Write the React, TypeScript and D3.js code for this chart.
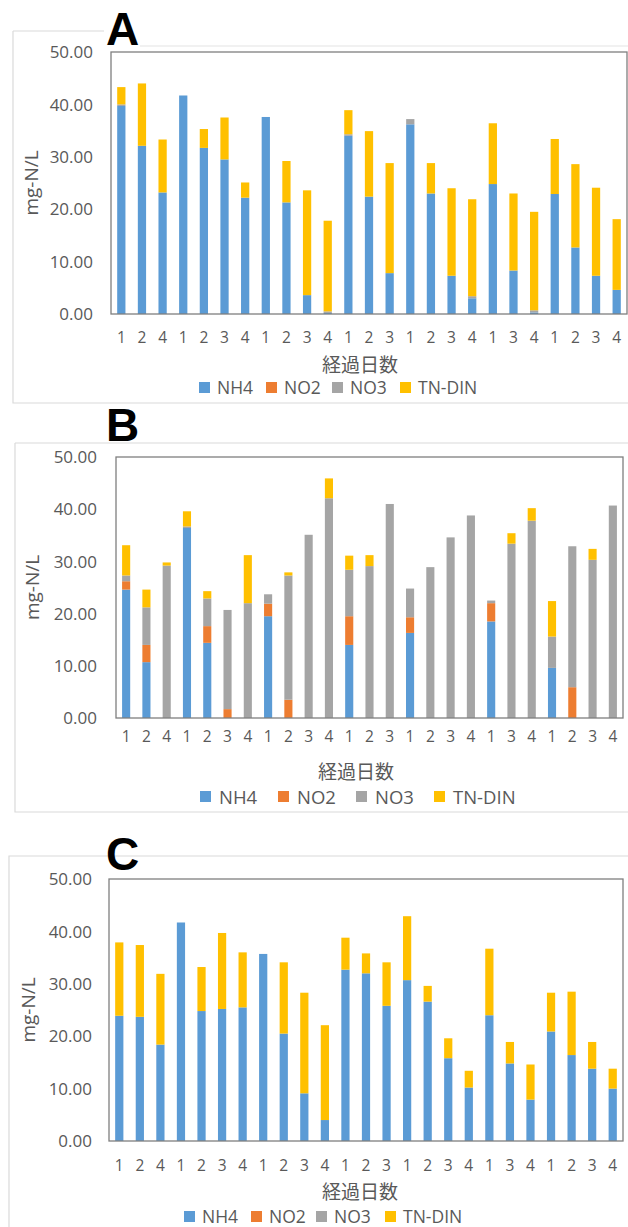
import React from "react";
import * as d3 from "d3";

// ---------- data ----------
const dayLabels = ["1","2","4","1","2","3","4","1","2","3","4","1","2","3","1","2","3","4","1","3","4","1","2","3","4"];
const seriesNames = ["NH4", "NO2", "NO3", "TN-DIN"];
const yTicks = [0, 10, 20, 30, 40, 50];
const yTickLabels = ["0.00", "10.00", "20.00", "30.00", "40.00", "50.00"];
const xAxisTitle = "経過日数";
const yAxisTitle = "mg-N/L";

const A_NH4 = [39.7, 32.1, 23.2, 41.7, 31.7, 29.5, 22.2, 37.6, 21.3, 3.6, 0.2, 34.0, 22.4, 7.8, 36.2, 23.0, 7.3, 3.0, 24.8, 8.3, 0.3, 22.9, 12.7, 7.3, 4.6];
const A_NO2 = [0, 0, 0, 0, 0, 0, 0, 0, 0, 0, 0, 0, 0, 0, 0, 0, 0, 0, 0, 0, 0, 0, 0, 0, 0];
const A_NO3 = [0.3, 0, 0, 0, 0, 0, 0, 0, 0, 0, 0.3, 0.3, 0, 0, 1.0, 0, 0, 0.4, 0, 0, 0.4, 0, 0, 0, 0];
const A_TNDIN = [3.3, 11.9, 10.1, 0, 3.6, 8.0, 2.9, 0, 7.9, 20.0, 17.3, 4.6, 12.5, 21.0, 0, 5.8, 16.7, 18.5, 11.6, 14.7, 18.8, 10.5, 15.9, 16.8, 13.5];

const B_NH4 = [24.6, 10.7, 0, 36.4, 14.4, 0, 0, 19.5, 0, 0, 0, 14.0, 0, 0, 16.3, 0, 0, 0, 18.5, 0, 0, 9.6, 0, 0, 0];
const B_NO2 = [1.6, 3.3, 0, 0, 3.2, 1.7, 0, 2.4, 3.5, 0, 0, 5.5, 0, 0, 3.0, 0, 0, 0, 3.5, 0, 0, 0, 5.9, 0, 0];
const B_NO3 = [1.1, 7.2, 29.2, 0.3, 5.3, 19.0, 22.0, 1.8, 23.8, 35.1, 42.1, 8.9, 29.1, 41.0, 5.5, 28.9, 34.6, 38.8, 0.5, 33.4, 37.8, 6.0, 27.0, 30.3, 40.7];
const B_TNDIN = [5.8, 3.4, 0.6, 2.9, 1.4, 0, 9.2, 0, 0.6, 0, 3.8, 2.7, 2.1, 0, 0, 0, 0, 0, 0, 2.0, 2.4, 6.8, 0, 2.1, 0];

const C_NH4 = [23.9, 23.7, 18.4, 41.7, 24.8, 25.2, 25.5, 35.7, 20.5, 9.1, 4.0, 32.7, 32.0, 25.8, 30.7, 26.6, 15.8, 10.2, 24.0, 14.8, 7.9, 20.9, 16.4, 13.8, 10.0];
const C_NO2 = [0, 0, 0, 0, 0, 0, 0, 0, 0, 0, 0, 0, 0, 0, 0, 0, 0, 0, 0, 0, 0, 0, 0, 0, 0];
const C_NO3 = [0, 0, 0, 0, 0, 0, 0, 0, 0, 0, 0, 0, 0, 0, 0, 0, 0, 0, 0, 0, 0, 0, 0, 0, 0];
const C_TNDIN = [14.0, 13.7, 13.5, 0, 8.4, 14.5, 10.5, 0, 13.6, 19.2, 18.1, 6.1, 3.8, 8.3, 12.2, 3.0, 3.8, 3.2, 12.7, 4.1, 6.7, 7.4, 12.1, 5.1, 3.8];

// ---------- styles / layout ----------
const COLORS = ["#5B9BD5", "#ED7D31", "#A5A5A5", "#FFC000"];
const TEXT = "#595959";
const FONT = "'Open Sans', 'Noto Sans', sans-serif";
const JFONT = "'Noto Sans CJK JP', sans-serif";

type Layout = {
  letter: string; letterX: number; letterY: number;
  boxPath: string; extraLine?: [number, number, number, number];
  left: number; right: number; top: number; bottom: number;
  tickX: number; yTitleX: number;
  xLabelY: number; xTitleX: number; xTitleY: number;
  legendY: number; legendX: number[]; legendFont: number; legendTextOff: number;
};

const layouts: Layout[] = [
  {
    letter: "A", letterX: 106, letterY: 45,
    boxPath: "M13,31 L13,403 L640,403 M13,31 L104,31", extraLine: [140, 46, 640, 46],
    left: 111, right: 627, top: 52, bottom: 314,
    tickX: 93, yTitleX: 31,
    xLabelY: 337, xTitleX: 360, xTitleY: 365,
    legendY: 388, legendX: [199, 266, 332, 400], legendFont: 17.5, legendTextOff: 18,
  },
  {
    letter: "B", letterX: 106, letterY: 441,
    boxPath: "M15,443 L640,443 M15,443 L15,812 L640,812",
    left: 116, right: 623, top: 457, bottom: 718,
    tickX: 97, yTitleX: 32,
    xLabelY: 736, xTitleX: 356, xTitleY: 772,
    legendY: 797, legendX: [200, 278, 356, 434], legendFont: 18.5, legendTextOff: 19,
  },
  {
    letter: "C", letterX: 106, letterY: 870,
    boxPath: "M9,1240 L9,856 L640,856",
    left: 109, right: 623, top: 879, bottom: 1141,
    tickX: 92, yTitleX: 28,
    xLabelY: 1165, xTitleX: 360, xTitleY: 1192,
    legendY: 1217, legendX: [184, 251, 316, 385], legendFont: 17.5, legendTextOff: 18,
  },
];

const panelSeries = [
  [A_NH4, A_NO2, A_NO3, A_TNDIN],
  [B_NH4, B_NO2, B_NO3, B_TNDIN],
  [C_NH4, C_NO2, C_NO3, C_TNDIN],
];

function Panel({ series, L }: { series: number[][]; L: Layout }) {
  const rows = dayLabels.map((d, i) => {
    const r: any = { idx: i, day: d };
    seriesNames.forEach((k, j) => (r[k] = series[j][i]));
    return r;
  });
  const stacked = d3.stack<any>().keys(seriesNames)(rows);
  const x = d3
    .scaleBand<number>()
    .domain(rows.map((r) => r.idx))
    .range([L.left, L.right])
    .paddingInner(0.6)
    .paddingOuter(0.3);
  const y = d3.scaleLinear().domain([0, 50]).range([L.bottom, L.top]);

  return (
    <g>
      <path d={L.boxPath} fill="none" stroke="#dadada" strokeWidth={1.2} />
      {L.extraLine && (
        <line x1={L.extraLine[0]} y1={L.extraLine[1]} x2={L.extraLine[2]} y2={L.extraLine[3]} stroke="#e3e3e3" strokeWidth={1.2} />
      )}
      {/* bars */}
      {stacked.map((layer, si) => (
        <g key={si} fill={COLORS[si]}>
          {layer.map((d, i) => {
            const h = y(d[0]) - y(d[1]);
            if (h <= 0) return null;
            return <rect key={i} x={x(i)!} y={y(d[1])} width={x.bandwidth()} height={h} />;
          })}
        </g>
      ))}
      {/* plot frame */}
      <rect x={L.left} y={L.top} width={L.right - L.left} height={L.bottom - L.top} fill="none" stroke="#7f7f7f" strokeWidth={1.3} />
      {/* y ticks */}
      {yTicks.map((t, i) => (
        <text key={t} x={L.tickX} y={y(t)} dy="0.36em" textAnchor="end" fill={TEXT} fontFamily={FONT} fontSize={17}>
          {yTickLabels[i]}
        </text>
      ))}
      {/* x labels */}
      {rows.map((r) => (
        <text key={r.idx} x={x(r.idx)! + x.bandwidth() / 2} y={L.xLabelY} dy="0.36em" textAnchor="middle" fill={TEXT} fontFamily={FONT} fontSize={15.5}>
          {r.day}
        </text>
      ))}
      <text x={L.xTitleX} y={L.xTitleY} dy="0.36em" textAnchor="middle" fill={TEXT} fontFamily={JFONT} fontSize={19}>
        {xAxisTitle}
      </text>
      <text
        transform={`translate(${L.yTitleX},${(L.top + L.bottom) / 2}) rotate(-90)`}
        dy="0.36em" textAnchor="middle" fill={TEXT} fontFamily={FONT} fontSize={19}
      >
        {yAxisTitle}
      </text>
      {/* legend */}
      {seriesNames.map((n, i) => (
        <g key={n}>
          <rect x={L.legendX[i]} y={L.legendY - 6} width={11} height={11} fill={COLORS[i]} />
          <text x={L.legendX[i] + L.legendTextOff} y={L.legendY} dy="0.36em" fill={TEXT} fontFamily={FONT} fontSize={L.legendFont}>
            {n}
          </text>
        </g>
      ))}
      {/* panel letter */}
      <text x={L.letterX} y={L.letterY} fontFamily="'Liberation Sans', Arial, sans-serif" fontWeight="bold" fontSize={46} fill="#000">
        {L.letter}
      </text>
    </g>
  );
}

export default function App() {
  return (
    <svg width={628} height={1227} style={{ position: "absolute", left: 0, top: 0, background: "#fff", display: "block" }}>
      <rect width={628} height={1227} fill="#fff" />
      {layouts.map((L, i) => (
        <Panel key={i} series={panelSeries[i]} L={L} />
      ))}
    </svg>
  );
}
